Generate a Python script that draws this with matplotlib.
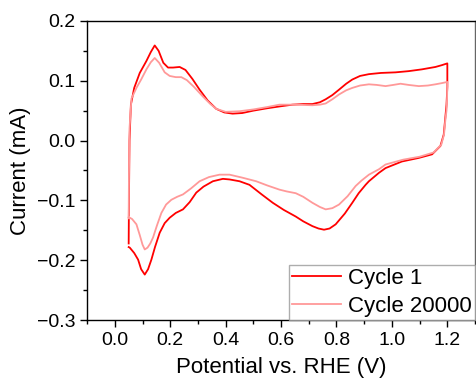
import matplotlib.pyplot as plt
from matplotlib.ticker import MultipleLocator

plt.rcParams['font.family'] = ['Liberation Sans', 'DejaVu Sans']

# Cycle 1 (anodic then cathodic branch)
c1_x = [0.05, 0.051, 0.053, 0.058, 0.07, 0.09, 0.114, 0.13, 0.144, 0.158, 0.175, 0.192, 0.21, 0.234,
        0.255, 0.28, 0.306, 0.335, 0.366, 0.395, 0.425, 0.46, 0.5, 0.55, 0.594, 0.641, 0.68, 0.713,
        0.74, 0.761, 0.785, 0.809, 0.835, 0.857, 0.885, 0.917, 0.96, 1.013, 1.06, 1.108, 1.157, 1.18, 1.2,
        1.2, 1.2, 1.197, 1.193, 1.187, 1.175, 1.145, 1.097, 1.036, 0.977, 0.953, 0.917, 0.905, 0.88,
        0.857, 0.83, 0.797, 0.775, 0.755, 0.735, 0.713, 0.68, 0.653, 0.61, 0.57, 0.53, 0.486, 0.45,
        0.414, 0.39, 0.354, 0.32, 0.294, 0.27, 0.246, 0.22, 0.198, 0.18, 0.162, 0.145, 0.132, 0.12,
        0.108, 0.095, 0.084, 0.07, 0.054, 0.05]
c1_y = [-0.172, -0.10, 0.0, 0.06, 0.088, 0.113, 0.133, 0.148, 0.159, 0.150, 0.130, 0.122, 0.122, 0.123,
        0.118, 0.103, 0.085, 0.067, 0.053, 0.047, 0.045, 0.046, 0.050, 0.054, 0.057, 0.060, 0.061, 0.061,
        0.064, 0.069, 0.076, 0.085, 0.095, 0.102, 0.108, 0.111, 0.113, 0.114, 0.116, 0.119, 0.123, 0.126, 0.129,
        0.129, 0.09, 0.06, 0.04, 0.01, -0.009, -0.023, -0.029, -0.035, -0.046, -0.054, -0.068, -0.074, -0.088,
        -0.104, -0.122, -0.140, -0.147, -0.149, -0.147, -0.143, -0.135, -0.127, -0.116, -0.104, -0.090, -0.074, -0.068,
        -0.065, -0.064, -0.068, -0.077, -0.087, -0.103, -0.115, -0.121, -0.129, -0.138, -0.154, -0.178, -0.199, -0.215,
        -0.224, -0.215, -0.199, -0.188, -0.179, -0.178]

# Cycle 20000
c2_x = [0.05, 0.051, 0.053, 0.06, 0.078, 0.095, 0.114, 0.13, 0.144, 0.16, 0.18, 0.198, 0.22, 0.24,
        0.26, 0.285, 0.317, 0.345, 0.366, 0.4, 0.45, 0.5, 0.55, 0.594, 0.65, 0.713, 0.74, 0.761, 0.785,
        0.809, 0.835, 0.857, 0.885, 0.917, 0.945, 0.977, 1.005, 1.031, 1.06, 1.097, 1.13, 1.157, 1.18, 1.2,
        1.2, 1.199, 1.197, 1.193, 1.188, 1.178, 1.15, 1.1, 1.04, 0.977, 0.953, 0.917, 0.89, 0.869, 0.84,
        0.809, 0.785, 0.761, 0.74, 0.713, 0.68, 0.653, 0.62, 0.594, 0.55, 0.51, 0.46, 0.414, 0.378, 0.34,
        0.306, 0.275, 0.246, 0.225, 0.204, 0.185, 0.168, 0.152, 0.138, 0.128, 0.118, 0.108, 0.1, 0.09,
        0.078, 0.062, 0.05]
c2_y = [-0.130, -0.06, 0.02, 0.07, 0.088, 0.102, 0.119, 0.131, 0.138, 0.130, 0.114, 0.108, 0.106, 0.106,
        0.101, 0.090, 0.074, 0.061, 0.053, 0.048, 0.049, 0.052, 0.056, 0.060, 0.060, 0.059, 0.060, 0.062, 0.069,
        0.077, 0.084, 0.088, 0.092, 0.094, 0.093, 0.091, 0.093, 0.095, 0.093, 0.091, 0.092, 0.094, 0.096, 0.098,
        0.098, 0.07, 0.05, 0.035, 0.01, -0.007, -0.020, -0.027, -0.032, -0.040, -0.048, -0.057, -0.067, -0.076, -0.093,
        -0.107, -0.113, -0.115, -0.111, -0.104, -0.094, -0.088, -0.085, -0.082, -0.075, -0.068, -0.062, -0.057, -0.057, -0.061,
        -0.068, -0.080, -0.090, -0.094, -0.099, -0.107, -0.121, -0.142, -0.162, -0.172, -0.179, -0.182, -0.174, -0.158,
        -0.140, -0.131, -0.128]

fig = plt.figure(figsize=(4.76, 3.87), dpi=100)
ax = fig.add_axes([0.183, 0.173, 0.815, 0.773])

ax.plot(c1_x, c1_y, color='#ff0000', lw=1.3, label='Cycle 1')
ax.plot(c2_x, c2_y, color='#ff9999', lw=1.3, label='Cycle 20000')

ax.set_xlim(-0.1, 1.3)
ax.set_ylim(-0.3, 0.2)
ax.xaxis.set_major_locator(MultipleLocator(0.2))
ax.xaxis.set_minor_locator(MultipleLocator(0.1))
ax.yaxis.set_major_locator(MultipleLocator(0.1))
ax.yaxis.set_minor_locator(MultipleLocator(0.05))
ax.tick_params(which='major', direction='out', length=5, width=1, labelsize=14)
ax.tick_params(which='minor', direction='out', length=3, width=1)
ax.set_xticks([0.0, 0.2, 0.4, 0.6, 0.8, 1.0, 1.2])
ax.set_xticklabels(['0.0', '0.2', '0.4', '0.6', '0.8', '1.0', '1.2'])
ax.set_yticks([-0.3, -0.2, -0.1, 0.0, 0.1, 0.2])
ax.set_yticklabels(['\u22120.3', '\u22120.2', '\u22120.1', '0.0', '0.1', '0.2'])

for s in ax.spines.values():
    s.set_linewidth(1.0)
ax.spines['right'].set_color('#666666')

ax.set_xlabel('Potential vs. RHE (V)', fontsize=16, labelpad=6)
ax.set_ylabel('Current (mA)', fontsize=16, labelpad=4)

leg = ax.legend(loc='lower right', fontsize=16, frameon=True, fancybox=False,
                edgecolor='#999999', borderaxespad=0, handlelength=2.2,
                handletextpad=0.3, borderpad=0.15, labelspacing=0.3)
leg.get_frame().set_linewidth(1.0)

plt.savefig('out.png', dpi=100)
